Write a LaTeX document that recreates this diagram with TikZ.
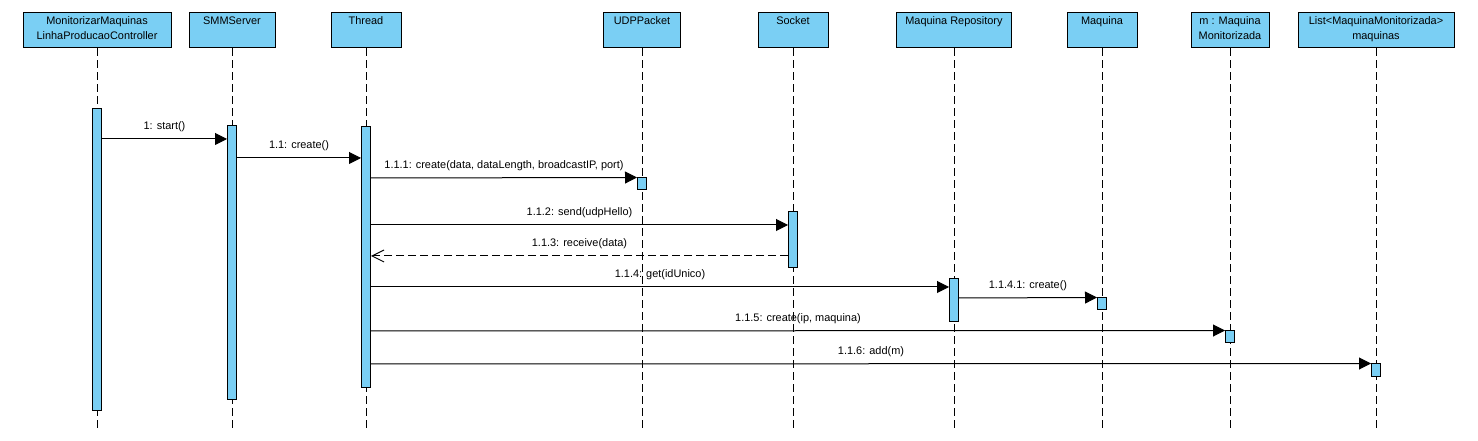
\documentclass[tikz,border=0pt]{standalone}
\usepackage{fontspec}
\setmainfont{Liberation Sans}
\usetikzlibrary{arrows.meta}
\definecolor{actblue}{RGB}{122,207,244}
\begin{document}
\begin{tikzpicture}[x=0.75pt,y=-0.75pt,
  font=\fontsize{8.2pt}{11.4pt}\selectfont,
  head/.style={draw=black,line width=0.75pt,fill=actblue,minimum height=26.25pt,inner sep=0pt},
  headtxt/.style={anchor=north,align=center,inner sep=0pt},
  life/.style={line width=0.75pt,dash pattern=on 6pt off 3pt},
  act/.style={draw=black,line width=0.75pt,fill=actblue,minimum width=6.75pt,inner sep=0pt},
  msg/.style={line width=0.75pt,-{Triangle[length=9pt,width=9pt]}},
  ret/.style={line width=0.75pt,dash pattern=on 6pt off 3pt,-{Straight Barb[length=9pt,width=9pt]}},
  lbl/.style={midway,yshift=9pt,inner sep=0pt}]
\useasboundingbox (0,0) rectangle (1478,441);
% headers
\node[head,minimum width=111pt] (h1) at (97,30.5) {};
\node[head,minimum width=64.5pt] (h2) at (232,30.5) {};
\node[head,minimum width=52.5pt] (h3) at (366,30.5) {};
\node[head,minimum width=57.75pt] (h4) at (642,30.5) {};
\node[head,minimum width=52.5pt] (h5) at (793,30.5) {};
\node[head,minimum width=86.25pt] (h6) at (954,30.5) {};
\node[head,minimum width=52.5pt] (h7) at (1102,30.5) {};
\node[head,minimum width=58.5pt] (h8) at (1230,30.5) {};
\node[head,minimum width=117pt] (h9) at (1376,30.5) {};
\node[headtxt] (t1) at (97,16.5) {MonitorizarMaquinas\\LinhaProducaoController};
\node[headtxt] (t2) at (232,16.5) {SMMServer};
\node[headtxt] (t3) at (366,16.5) {Thread};
\node[headtxt] (t4) at (642,16.5) {UDPPacket};
\node[headtxt] (t5) at (793,16.5) {Socket};
\node[headtxt] (t6) at (954,16.5) {Maquina Repository};
\node[headtxt] (t7) at (1102,16.5) {Maquina};
\node[headtxt] (t8) at (1230,16.5) {m : Maquina\\Monitorizada};
\node[headtxt] (t9) at (1376,16.5) {List<MaquinaMonitorizada>\\maquinas};
% lifelines
\foreach \i/\x in {1/97,2/232,3/366,4/642,5/793,6/954,7/1102,8/1230,9/1376}{
  \coordinate (e\i) at (\x,430);
  \draw[life] (h\i.south) -- (e\i);
}
% activations
\node[act,minimum height=226.5pt] (a1) at (97,260) {};
\node[act,minimum height=205.5pt] (a2) at (232,263) {};
\node[act,minimum height=195.75pt] (a3) at (366,257.5) {};
\node[act,minimum height=9pt] (a4) at (642,184) {};
\node[act,minimum height=42pt] (a5) at (793,240) {};
\node[act,minimum height=32.25pt] (a6) at (954,300.5) {};
\node[act,minimum height=9pt] (a7) at (1102,304) {};
\node[act,minimum height=9pt] (a8) at (1230,337) {};
\node[act,minimum height=9.75pt] (a9) at (1376,370.5) {};
% messages
\draw[msg] (a1.east |- 0,139) -- (a2.west |- 0,139) node[lbl] (m1) {1: start()};
\draw[msg] (a2.east |- 0,158) -- (a3.west |- 0,158) node[lbl] (m2) {1.1: create()};
\draw[msg] (a3.east |- 0,178) -- (a4.north west) node[lbl] (m3) {1.1.1: create(data, dataLength, broadcastIP, port)};
\draw[msg] (a3.east |- 0,225) -- (a5.west |- 0,225) node[lbl] (m4) {1.1.2: send(udpHello)};
\draw[ret] (a5.west |- 0,256) -- (a3.east |- 0,256) node[lbl] (m5) {1.1.3: receive(data)};
\draw[msg] (a3.east |- 0,287) -- (a6.west |- 0,287) node[lbl] (m6) {1.1.4: get(idUnico)};
\draw[msg] (a6.east |- 0,298) -- (a7.north west) node[lbl] (m7) {1.1.4.1: create()};
\draw[msg] (a3.east |- 0,331) -- (a8.north west) node[lbl] (m8) {1.1.5: create(ip, maquina)};
\draw[msg] (a3.east |- 0,364) -- (a9.north west) node[lbl] (m9) {1.1.6: add(m)};
\end{tikzpicture}
\end{document}
